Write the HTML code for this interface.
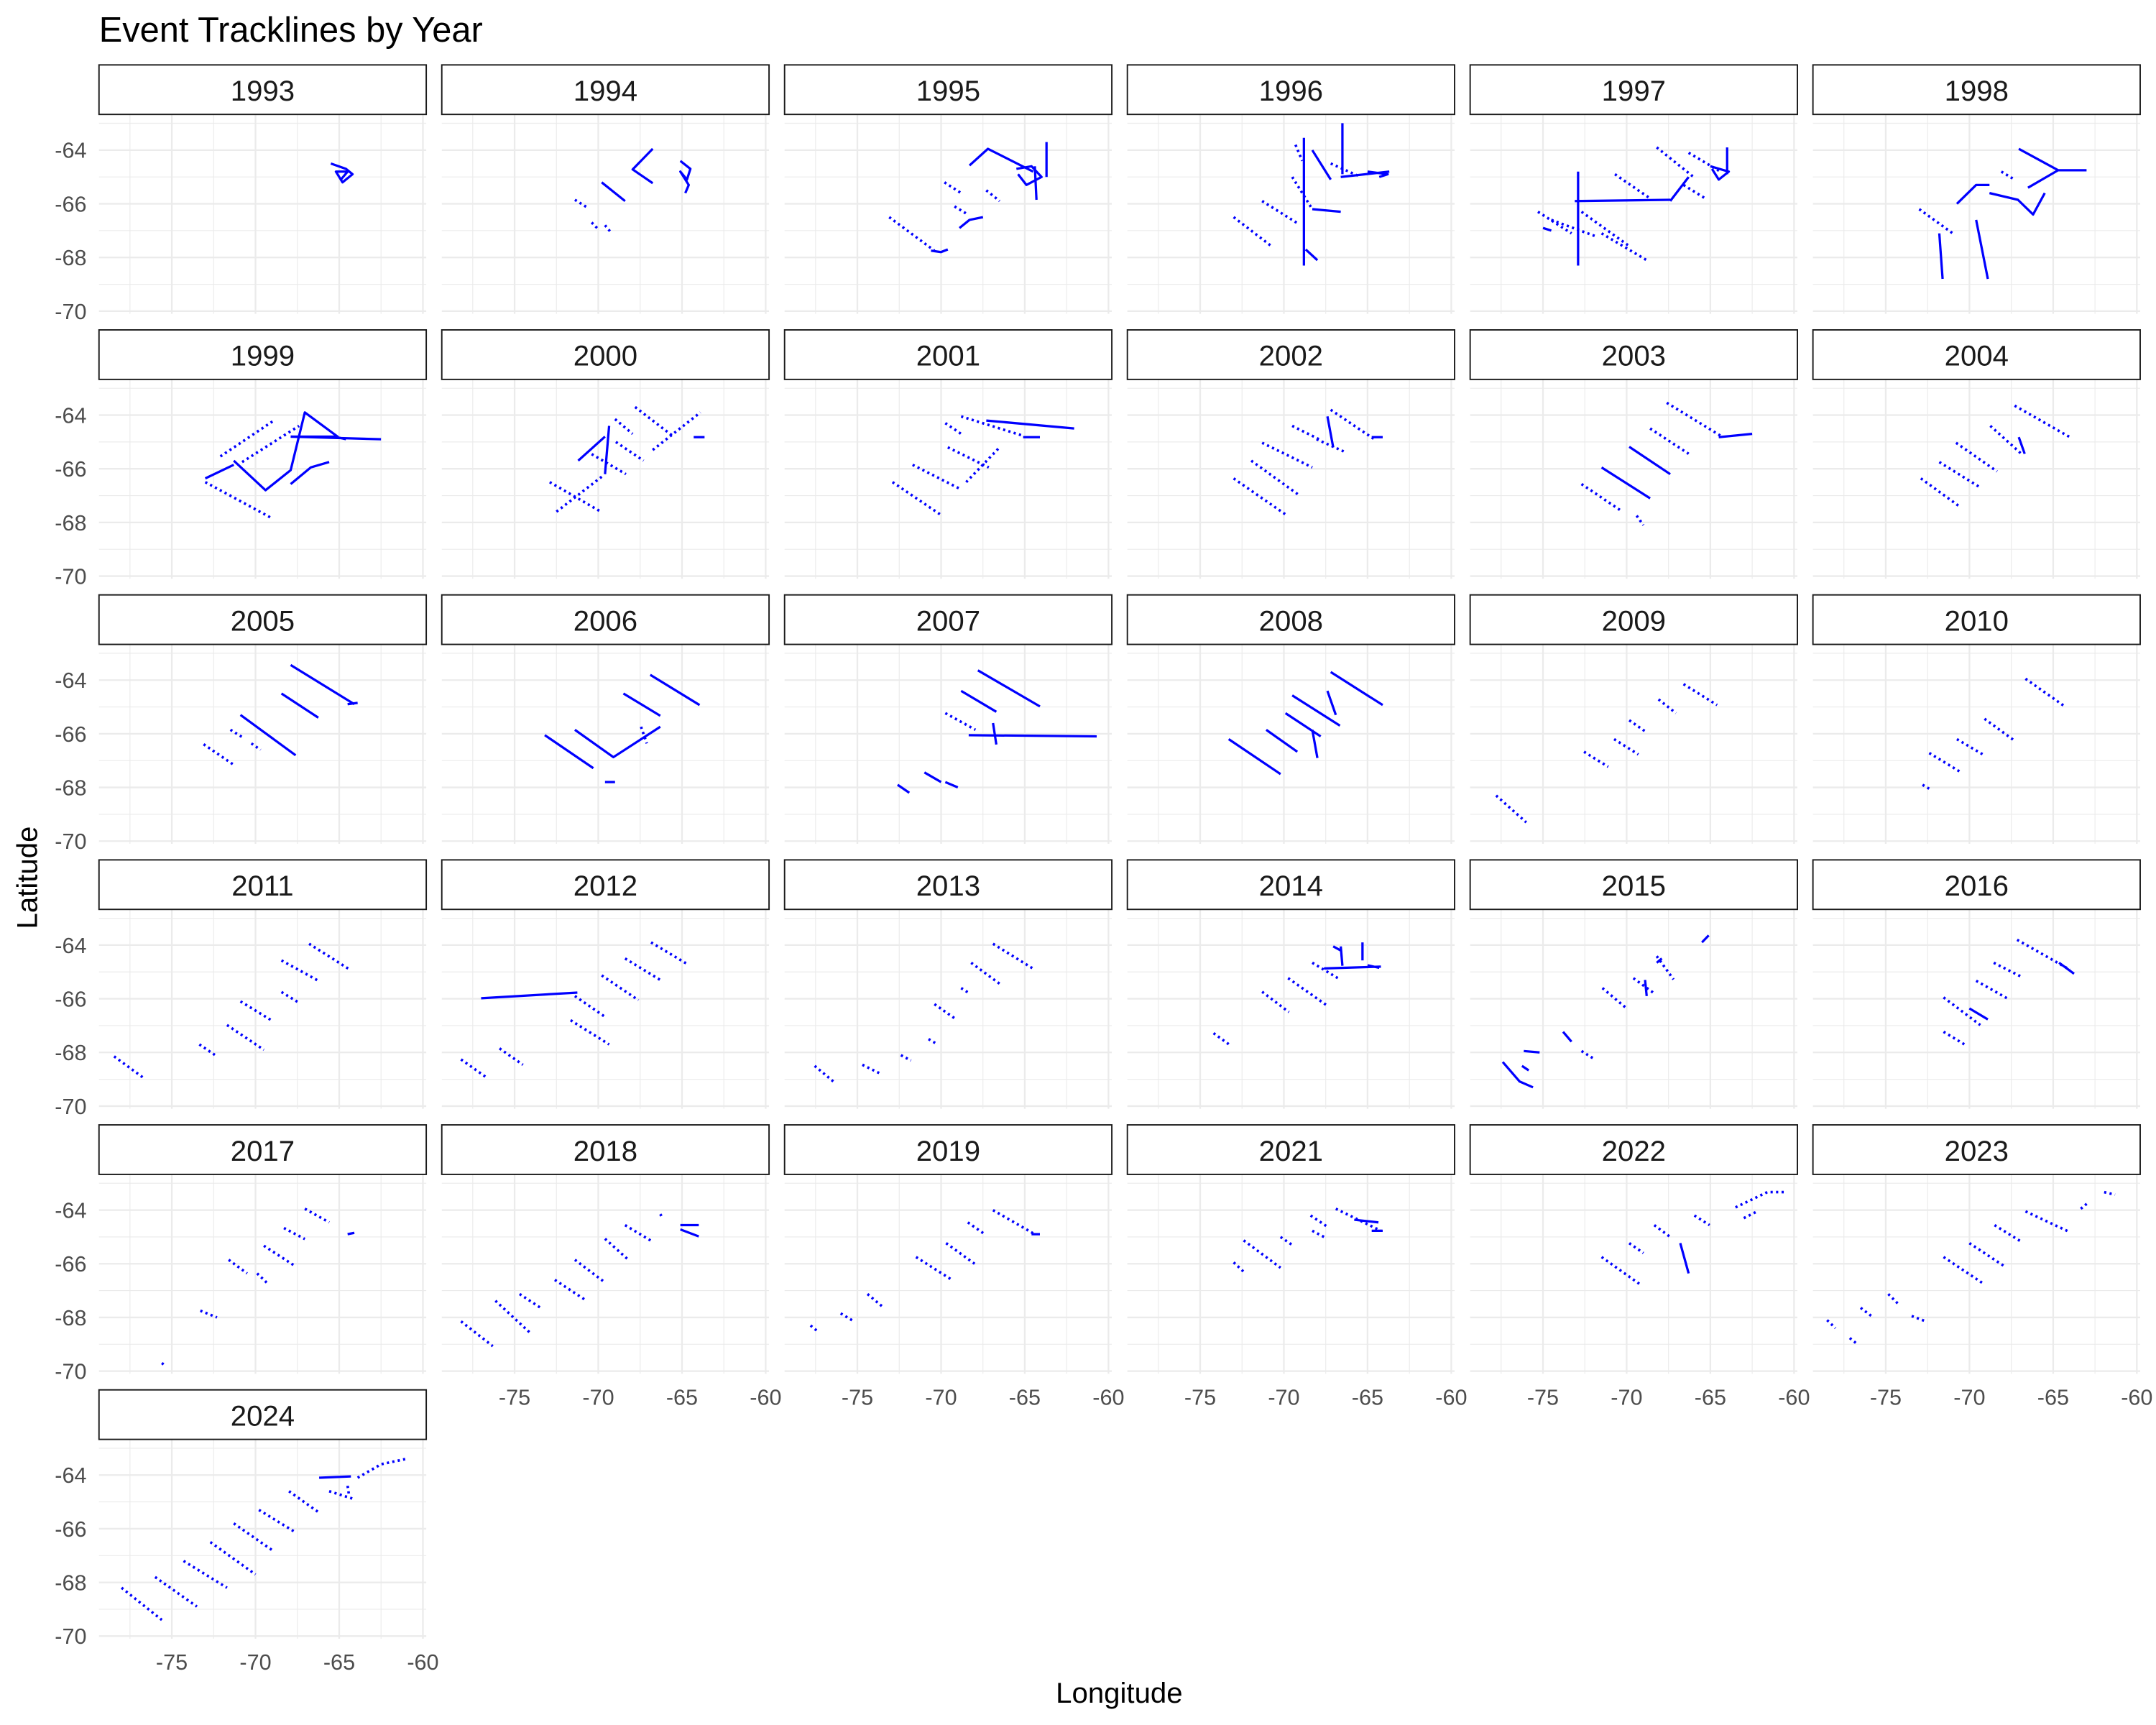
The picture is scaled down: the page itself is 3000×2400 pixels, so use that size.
<!DOCTYPE html>
<html><head><meta charset="utf-8"><title>Event Tracklines by Year</title>
<style>
html,body{margin:0;padding:0;background:#fff;}
svg{display:block;}
text{font-family:"Liberation Sans",Arial,sans-serif;}
</style></head>
<body>
<svg id="chart" width="3000" height="2400" viewBox="0 0 1568 1254" xmlns="http://www.w3.org/2000/svg">
<rect x="0" y="0" width="1568" height="1254" fill="#fff"/>
<text x="72" y="30" font-size="25.5" fill="#000">Event Tracklines by Year</text>
<text x="814" y="1238" font-size="21" fill="#000" text-anchor="middle">Longitude</text>
<text transform="translate(27,638) rotate(-90)" font-size="21" fill="#000" text-anchor="middle">Latitude</text>
<g id="panels"></g>
</svg>
<script>
const years = [1993,1994,1995,1996,1997,1998,1999,2000,2001,2002,2003,2004,2005,2006,2007,2008,2009,2010,2011,2012,2013,2014,2015,2016,2017,2018,2019,2021,2022,2023,2024];
const lonTicks = [-75,-70,-65,-60];
const lonMinor = [-77.5,-72.5,-67.5,-62.5];
const latTicks = [-64,-66,-68,-70];
const latMinor = [-63,-65,-67,-69];
const lonRange = [-79.35,-59.8];
const latRange = [-70.1,-62.67];
// tracks per year: first item 's' solid or 'd' dotted, then lon,lat pairs
const tracks = {
1993:[['s',-65.5,-64.5,-64.6,-64.7,-64.2,-64.9,-64.8,-65.2,-65.2,-64.8,-64.5,-64.8,-64.9,-65.1]],
1994:[['s',-66.75,-63.95,-67.95,-64.72,-66.75,-65.23],['s',-65.1,-64.4,-64.5,-64.7,-64.7,-65.1,-65.1,-64.8,-64.6,-65.3,-64.8,-65.6],
 ['d',-71.4,-65.85,-70.6,-66.16],['s',-69.8,-65.2,-68.4,-65.9],['d',-70.4,-66.7,-70.0,-66.95],['d',-69.6,-66.8,-69.2,-67.1]],
1995:[['d',-73.1,-66.5,-70.4,-67.75],['s',-70.6,-67.75,-70.0,-67.8,-69.6,-67.7],['s',-68.9,-66.9,-68.3,-66.6,-67.5,-66.5],
 ['s',-68.3,-64.57,-67.2,-63.95,-64.5,-64.8],['s',-63.7,-63.7,-63.7,-65.0],['s',-64.4,-64.6,-64.3,-65.85],
 ['s',-65.5,-64.7,-64.6,-64.6,-64.0,-65.0,-64.9,-65.3,-65.4,-64.9],['d',-69.8,-65.2,-68.8,-65.6],['d',-67.3,-65.5,-66.5,-65.9],['d',-69.2,-66.1,-68.4,-66.4]],
1996:[['s',-68.8,-63.54,-68.8,-68.3],['s',-66.5,-63.0,-66.5,-64.9],['d',-73.0,-66.5,-70.7,-67.6],['d',-71.3,-65.9,-69.1,-66.76],
 ['d',-69.5,-65.0,-68.3,-66.2],['s',-68.3,-64.0,-67.2,-65.1],['d',-67.2,-64.5,-65.4,-65.0],['s',-68.3,-66.2,-66.6,-66.3],
 ['s',-66.6,-65.0,-63.7,-64.8],['s',-65.0,-64.8,-63.8,-64.9,-64.3,-65.0],['s',-68.7,-67.7,-68.0,-68.1],['d',-69.3,-63.8,-68.9,-64.4]],
1997:[['s',-73.1,-65.9,-67.4,-65.85],['s',-72.9,-64.8,-72.9,-68.3],['d',-75.3,-66.3,-73.3,-67.1],['d',-74.5,-66.6,-71.9,-67.2],
 ['d',-72.7,-66.3,-69.8,-67.6],['d',-71.5,-67.1,-68.8,-68.1],['d',-70.7,-64.9,-68.6,-65.8],['d',-68.2,-63.9,-66.0,-65.0],
 ['d',-66.3,-64.1,-64.4,-64.8],['s',-65.0,-64.6,-63.9,-64.8,-64.5,-65.1,-64.9,-64.7],['s',-64.0,-63.9,-64.0,-64.9],
 ['s',-67.4,-65.9,-66.3,-65.0],['d',-66.6,-65.3,-65.3,-65.8],['s',-75.0,-66.9,-74.5,-67.0]],
1998:[['s',-71.8,-67.1,-71.6,-68.8],['s',-69.6,-66.6,-68.9,-68.8],['s',-70.75,-66.0,-69.6,-65.3,-68.8,-65.3],
 ['s',-68.8,-65.6,-67.1,-65.85,-66.2,-66.4,-65.5,-65.6],['s',-67.05,-63.95,-64.7,-64.75,-63.0,-64.75],['s',-64.7,-64.75,-66.5,-65.4],
 ['d',-73.0,-66.2,-71.0,-67.1],['d',-68.1,-64.8,-67.3,-65.1]],
1999:[['s',-73.0,-66.36,-71.3,-65.85],['d',-73.0,-66.5,-69.0,-67.85],['d',-72.1,-65.54,-68.9,-64.2],['d',-70.8,-65.75,-67.4,-64.4],
 ['s',-71.3,-65.7,-69.4,-66.8,-67.9,-66.05,-67.05,-63.9,-65.1,-64.8,-67.9,-64.8],['s',-67.9,-64.8,-62.5,-64.9],
 ['s',-67.9,-66.57,-66.7,-65.95,-65.6,-65.75],['s',-65.3,-64.8,-64.6,-64.9]],
2000:[['d',-72.9,-66.5,-69.85,-67.6],['d',-72.5,-67.6,-69.8,-66.3],['s',-71.2,-65.7,-69.6,-64.8],['d',-70.4,-65.45,-68.35,-66.2],
 ['d',-68.95,-65.0,-67.3,-65.7],['s',-69.6,-66.2,-69.35,-64.4],['d',-67.8,-63.7,-65.5,-64.8],['d',-66.75,-65.3,-63.9,-63.9],
 ['s',-64.3,-64.82,-63.65,-64.82],['d',-69.0,-64.15,-67.95,-64.7]],
2001:[['d',-72.9,-66.5,-70.05,-67.7],['d',-71.7,-65.85,-68.8,-66.77],['d',-69.6,-65.2,-67.15,-65.95],['d',-68.5,-66.5,-66.5,-65.2],
 ['d',-69.75,-64.3,-68.8,-64.7],['s',-67.3,-64.2,-62.05,-64.5],['d',-68.8,-64.05,-65.1,-64.77],['s',-65.1,-64.82,-64.1,-64.82]],
2002:[['d',-73.0,-66.36,-69.9,-67.7],['d',-71.95,-65.7,-69.1,-66.98],['d',-71.3,-65.03,-68.3,-65.95],['d',-69.5,-64.4,-67.9,-64.9],
 ['d',-67.2,-63.8,-64.6,-64.9],['s',-67.4,-64.05,-67.05,-65.2],['d',-68.05,-64.9,-66.25,-65.4],['s',-64.75,-64.82,-64.1,-64.82]],
2003:[['d',-72.7,-66.57,-70.25,-67.6],['s',-71.5,-65.95,-68.6,-67.1],['s',-69.85,-65.18,-67.4,-66.2],['d',-68.6,-64.5,-66.3,-65.44],
 ['d',-67.6,-63.54,-64.25,-64.82],['s',-64.5,-64.82,-62.5,-64.7],['d',-69.4,-67.75,-69.0,-68.1]],
2004:[['d',-72.9,-66.36,-70.6,-67.4],['d',-71.8,-65.75,-69.35,-66.7],['d',-70.8,-65.03,-68.35,-66.1],['d',-68.75,-64.4,-66.9,-65.44],
 ['d',-67.3,-63.65,-64.0,-64.82],['s',-67.05,-64.82,-66.7,-65.44]],
2005:[['d',-73.1,-66.39,-71.3,-67.16],['d',-71.5,-65.85,-70.7,-66.16],['s',-70.9,-65.3,-67.6,-66.8],['d',-70.25,-66.36,-69.7,-66.6],
 ['s',-68.45,-64.5,-66.25,-65.4],['s',-67.9,-63.44,-64.1,-64.9],['s',-64.5,-64.9,-63.9,-64.85]],
2006:[['s',-73.2,-66.05,-70.3,-67.28],['s',-71.4,-65.85,-69.1,-66.87,-66.3,-65.74],['s',-68.5,-64.5,-66.3,-65.33],
 ['s',-66.9,-63.8,-63.95,-64.93],['d',-67.45,-65.74,-67.1,-66.36],['s',-69.6,-67.8,-69.0,-67.8]],
2007:[['s',-72.6,-67.9,-71.9,-68.2],['s',-71.0,-67.44,-70.0,-67.8],['d',-69.75,-65.23,-67.95,-65.85],['s',-68.35,-66.05,-60.7,-66.1],
 ['s',-68.8,-64.4,-66.7,-65.18],['s',-67.8,-63.64,-64.1,-64.98],['s',-69.75,-67.8,-69.0,-68.0],['s',-66.9,-65.6,-66.7,-66.4]],
2008:[['s',-73.3,-66.2,-70.2,-67.5],['s',-71.05,-65.85,-69.2,-66.67],['s',-69.9,-65.23,-67.8,-66.1],['s',-68.3,-65.85,-68.0,-66.9],
 ['s',-69.5,-64.57,-66.65,-65.7],['s',-67.2,-63.7,-64.1,-64.93],['s',-67.4,-64.4,-66.9,-65.3]],
2009:[['d',-77.8,-68.3,-76.0,-69.3],['d',-72.55,-66.67,-71.1,-67.23],['d',-70.75,-66.2,-69.3,-66.77],['d',-69.85,-65.5,-68.8,-65.95],
 ['d',-68.1,-64.72,-67.05,-65.23],['d',-66.6,-64.15,-64.6,-64.93]],
2010:[['d',-72.8,-67.9,-72.4,-68.05],['d',-72.4,-66.72,-70.6,-67.4],['d',-70.75,-66.2,-69.2,-66.77],['d',-69.1,-65.44,-67.3,-66.26],
 ['d',-66.65,-63.95,-64.3,-64.98]],
2011:[['d',-78.45,-68.15,-76.65,-68.97],['d',-73.35,-67.7,-72.3,-68.15],['d',-71.7,-66.98,-69.5,-67.9],['d',-70.9,-66.1,-69.0,-66.82],
 ['d',-68.45,-65.75,-67.4,-66.15],['d',-68.45,-64.57,-66.25,-65.33],['d',-66.8,-63.95,-64.35,-64.92]],
2012:[['d',-78.2,-68.26,-76.6,-68.97],['d',-75.9,-67.85,-74.5,-68.46],['d',-71.65,-66.8,-69.35,-67.7],['d',-71.4,-65.9,-69.6,-66.67],
 ['d',-69.8,-65.13,-67.6,-66.05],['d',-68.4,-64.5,-66.3,-65.3],['d',-66.85,-63.9,-64.7,-64.7],['s',-77.0,-65.98,-71.25,-65.77]],
2013:[['d',-77.55,-68.5,-76.4,-69.1],['d',-74.7,-68.46,-73.7,-68.77],['d',-72.4,-68.1,-71.8,-68.3],['d',-70.75,-67.5,-70.2,-67.7],
 ['d',-70.4,-66.2,-69.1,-66.77],['d',-68.8,-65.6,-68.3,-65.8],['d',-68.2,-64.66,-66.5,-65.44],['d',-66.9,-63.95,-64.45,-64.9]],
2014:[['d',-74.2,-67.28,-73.2,-67.74],['d',-71.3,-65.74,-69.7,-66.5],['d',-69.75,-65.23,-67.4,-66.26],['d',-68.3,-64.66,-66.65,-65.28],
 ['s',-67.6,-64.87,-64.2,-64.8],['s',-67.05,-64.05,-66.6,-64.2],['s',-65.3,-63.9,-65.3,-64.57],['s',-66.6,-64.05,-66.5,-64.77],['s',-65.0,-64.75,-64.3,-64.85]],
2015:[['s',-77.4,-68.36,-76.4,-69.08,-75.6,-69.3],['s',-76.15,-67.95,-75.2,-68.0],['s',-76.25,-68.5,-75.85,-68.67],['s',-73.8,-67.23,-73.3,-67.6],
 ['d',-72.7,-67.95,-71.9,-68.26],['d',-71.45,-65.6,-70.0,-66.36],['d',-69.6,-65.23,-68.35,-65.8],['s',-68.9,-65.3,-68.8,-65.9],['d',-68.2,-64.41,-67.2,-65.28],
 ['s',-65.5,-63.9,-65.1,-63.64],['s',-68.2,-64.66,-67.9,-64.5]],
2016:[['d',-71.55,-67.23,-70.2,-67.74],['d',-71.55,-65.95,-69.35,-66.98],['s',-70.0,-66.36,-68.9,-66.77],['d',-69.6,-65.33,-67.7,-66.0],
 ['d',-68.55,-64.66,-66.9,-65.18],['d',-67.15,-63.8,-64.0,-64.92],['s',-64.65,-64.66,-63.75,-65.07]],
2017:[['d',-75.6,-69.7,-75.4,-69.8],['d',-73.3,-67.75,-72.3,-68.0],['d',-71.6,-65.85,-70.5,-66.36],['d',-69.9,-66.36,-69.3,-66.72],
 ['d',-69.5,-65.33,-67.6,-66.1],['d',-68.3,-64.67,-67.05,-65.08],['d',-67.05,-63.95,-65.6,-64.46],['s',-64.5,-64.9,-64.1,-64.85]],
2018:[['d',-78.2,-68.15,-76.3,-69.07],['d',-76.15,-67.38,-74.1,-68.56],['d',-74.7,-67.13,-73.45,-67.64],['d',-72.6,-66.6,-70.7,-67.38],
 ['d',-71.4,-65.85,-69.6,-66.7],['d',-69.6,-65.07,-68.2,-65.85],['d',-68.4,-64.56,-66.75,-65.18],['d',-66.3,-64.15,-66.2,-64.25],
 ['s',-65.1,-64.56,-64.0,-64.56],['s',-65.1,-64.72,-64.0,-64.98]],
2019:[['d',-77.8,-68.3,-77.3,-68.56],['d',-76.0,-67.85,-75.2,-68.15],['d',-74.4,-67.13,-73.5,-67.6],['d',-71.5,-65.75,-69.35,-66.6],
 ['d',-69.7,-65.23,-68.0,-66.0],['d',-68.4,-64.46,-67.35,-64.92],['d',-66.9,-64.0,-64.35,-64.92],['s',-64.6,-64.9,-64.1,-64.9]],
2021:[['d',-73.0,-65.95,-72.4,-66.3],['d',-72.4,-65.13,-70.2,-66.15],['d',-70.2,-65.0,-69.5,-65.3],['d',-68.3,-64.77,-67.6,-65.0],
 ['d',-68.4,-64.2,-67.45,-64.6],['d',-66.9,-63.95,-64.2,-64.77],['s',-65.8,-64.36,-64.35,-64.46],['s',-64.75,-64.77,-64.1,-64.77]],
2022:[['d',-71.5,-65.75,-69.2,-66.77],['d',-69.85,-65.23,-69.0,-65.6],['d',-68.35,-64.56,-67.4,-65.0],['s',-66.8,-65.23,-66.3,-66.36],
 ['d',-65.95,-64.2,-65.05,-64.56],['d',-63.5,-63.9,-61.6,-63.33,-60.55,-63.33],['d',-63.0,-64.3,-62.2,-64.05]],
2023:[['d',-78.5,-68.1,-78.0,-68.4],['d',-77.15,-68.77,-76.7,-69.0],['d',-76.5,-67.64,-75.75,-68.0],['d',-74.85,-67.13,-74.25,-67.5],
 ['d',-73.45,-67.95,-72.6,-68.15],['d',-71.55,-65.75,-69.1,-66.77],['d',-70.0,-65.23,-67.9,-66.1],['d',-68.5,-64.56,-66.9,-65.18],
 ['d',-66.65,-64.05,-64.0,-64.82],['d',-63.35,-63.95,-62.95,-63.74],['d',-61.95,-63.33,-61.3,-63.43]],
2024:[['d',-78.0,-68.2,-75.6,-69.4],['d',-76.0,-67.8,-73.5,-68.9],['d',-74.3,-67.2,-71.7,-68.2],['d',-72.7,-66.5,-70.0,-67.7],
 ['d',-71.3,-65.8,-69.0,-66.8],['d',-69.8,-65.3,-67.7,-66.1],['d',-68.0,-64.6,-66.2,-65.4],['s',-66.2,-64.1,-64.3,-64.05],
 ['d',-63.9,-64.1,-62.5,-63.6,-61.0,-63.4],['d',-65.6,-64.6,-64.1,-64.9],['d',-64.5,-64.4,-64.4,-64.8]]
};

const NS='http://www.w3.org/2000/svg';
const root=document.getElementById('panels');
const PW=238, PH=145, SH=36, COLX=72, COLSTEP=249.3, ROWY=47, ROWSTEP=192.7;
function mk(tag,attrs,parent){const e=document.createElementNS(NS,tag);for(const k in attrs)e.setAttribute(k,attrs[k]);parent.appendChild(e);return e;}

years.forEach((yr,i)=>{
  const r=Math.floor(i/6), c=i%6;
  const L=COLX+COLSTEP*c, ST=ROWY+ROWSTEP*r, T=ST+SH;
  const xs=v=>L+(v-lonRange[0])/(lonRange[1]-lonRange[0])*PW;
  const ys=v=>T+(latRange[1]-v)/(latRange[1]-latRange[0])*PH;
  const g=mk('g',{},root);
  
  
  lonMinor.forEach(v=>{const l=mk('line',{x1:xs(v),x2:xs(v),y1:T,y2:T+PH,stroke:'#ebebeb','stroke-width':0.6},g);});
  latMinor.forEach(v=>{const l=mk('line',{x1:L,x2:L+PW,y1:ys(v),y2:ys(v),stroke:'#ebebeb','stroke-width':0.6},g);});
  lonTicks.forEach(v=>{const l=mk('line',{x1:xs(v),x2:xs(v),y1:T,y2:T+PH,stroke:'#ebebeb','stroke-width':1.2},g);});
  latTicks.forEach(v=>{const l=mk('line',{x1:L,x2:L+PW,y1:ys(v),y2:ys(v),stroke:'#ebebeb','stroke-width':1.2},g);});
  const sr=mk('rect',{x:L,y:ST,width:PW,height:SH,fill:'#fff',stroke:'#1a1a1a','stroke-width':1},g);
  
  
  const st=mk('text',{x:L+PW/2,y:ST+26,'font-size':21,'text-anchor':'middle',fill:'#1a1a1a'},g);
  st.textContent=yr;
  
  
  (tracks[yr]||[]).forEach(tr=>{
    const pts=[];for(let k=1;k<tr.length;k+=2)pts.push(xs(tr[k]).toFixed(1)+','+ys(tr[k+1]).toFixed(1));
    const attrs={points:pts.join(' '),fill:'none',stroke:'#0000ff','stroke-width':tr[0]==='s'?1.7:1.9,'stroke-linejoin':'round'};
    if(tr[0]==='d')attrs['stroke-dasharray']='1.6 2.4';
    const p=mk('polyline',attrs,g);
    
    
  });
  if(c===0){
    latTicks.forEach(v=>{const t=mk('text',{x:L-9,y:ys(v)+5.7,'font-size':16,'text-anchor':'end',fill:'#4d4d4d'},g);t.textContent=v;
      });
  }
  const isBottom=(i+6>=years.length);
  if(isBottom){
    lonTicks.forEach(v=>{const t=mk('text',{x:xs(v),y:T+PH+22.5,'font-size':16,'text-anchor':'middle',fill:'#4d4d4d'},g);t.textContent=v;
      });
  }
});
</script>
</body></html>
